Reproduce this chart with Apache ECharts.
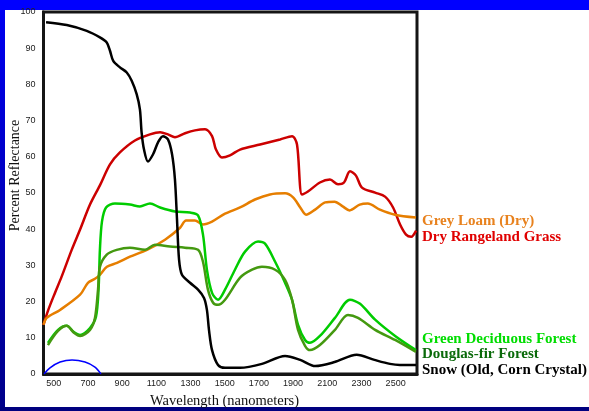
<!DOCTYPE html>
<html>
<head>
<meta charset="utf-8">
<script src="https://cdn.jsdelivr.net/npm/echarts@6/dist/echarts.min.js"></script>
<style>
  html, body { margin: 0; padding: 0; background: #ffffff; }
  #wrap { position: relative; width: 589px; height: 411px; overflow: hidden; background: #ffffff; }
  #topBar { position: absolute; left: 0; top: 0; width: 589px; height: 10px; background: #0000ff; }
  #leftBar { position: absolute; left: 0; top: 10px; width: 5px; height: 401px;
             background: linear-gradient(to bottom, #0000f0, #000088); }
  #bottomBar { position: absolute; left: 0; top: 407px; width: 589px; height: 4px; background: #00007f; }
  #chart { position: absolute; left: 0; top: 0; width: 589px; height: 411px; }
</style>
</head>
<body>
<div id="wrap">
  <div id="topBar"></div>
  <div id="leftBar"></div>
  <div id="bottomBar"></div>
  <div id="chart"></div>
</div>
<script>
// Spectral reflectance curves: [wavelength (nm), percent reflectance]
const wavelengthTicks = [500, 700, 900, 1100, 1300, 1500, 1700, 1900, 2100, 2300, 2500];

const snow = [
  [455, 97.2], [576, 96.4], [693, 94.8], [770, 93.0], [810, 91.6], [829, 89.3], [848, 86.5],
  [887, 84.7], [927, 83.3], [956, 81.0], [985, 77.3], [1004, 73.1], [1014, 66.7], [1028, 62.0],
  [1051, 58.7], [1081, 60.7], [1110, 64.0], [1139, 65.7], [1168, 64.8], [1192, 60.7], [1209, 53.7],
  [1221, 42.7], [1233, 31.6], [1250, 27.4], [1297, 25.2], [1344, 23.3], [1379, 21.0], [1396, 17.7],
  [1408, 12.2], [1426, 6.6], [1461, 2.5], [1502, 1.7], [1590, 1.7], [1718, 2.8], [1853, 5.0],
  [1942, 3.9], [2030, 2.2], [2143, 3.3], [2272, 5.3], [2376, 3.9], [2467, 2.8], [2525, 2.5], [2619, 2.5]
];

const dryRangelandGrass = [
  [440, 13.6], [468, 17.7], [507, 22.4], [546, 26.9], [605, 34.3], [654, 39.9], [712, 46.8],
  [770, 52.1], [829, 57.9], [887, 61.2], [975, 64.5], [1063, 66.2], [1122, 66.8], [1168, 66.2],
  [1209, 65.4], [1268, 66.5], [1326, 67.3], [1385, 67.6], [1426, 65.7], [1449, 62.0], [1484, 59.8],
  [1531, 60.4], [1590, 62.0], [1707, 63.4], [1824, 64.8], [1894, 65.7], [1923, 63.4], [1952, 49.6],
  [1987, 50.4], [2057, 52.9], [2116, 53.7], [2163, 52.4], [2198, 52.9], [2233, 56.0], [2268, 54.8],
  [2303, 51.5], [2380, 50.1], [2438, 49.0], [2485, 46.0], [2526, 41.3], [2561, 38.5], [2591, 37.9],
  [2620, 39.6]
];

const greyLoam = [
  [440, 13.6], [459, 15.5], [537, 17.7], [654, 21.9], [700, 25.2], [741, 26.3], [770, 27.4],
  [811, 29.6], [870, 30.7], [946, 32.4], [1045, 34.3], [1151, 37.1], [1239, 40.4], [1274, 42.4],
  [1326, 42.4], [1373, 41.3], [1426, 42.1], [1502, 44.3], [1590, 46.0], [1677, 48.2], [1765, 49.6],
  [1853, 49.9], [1900, 48.8], [1942, 46.0], [1976, 44.0], [2029, 45.4], [2088, 47.4], [2143, 47.6],
  [2190, 46.3], [2231, 45.2], [2290, 46.8], [2337, 47.1], [2408, 45.4], [2496, 44.0], [2619, 43.2]
];

const greenDeciduous = [
  [466, 8.6], [525, 12.2], [576, 13.3], [618, 11.6], [654, 10.8], [712, 12.7], [747, 15.8],
  [762, 23.3], [770, 34.3], [782, 42.1], [806, 46.0], [858, 47.1], [946, 46.8], [1004, 46.3],
  [1063, 47.1], [1122, 46.0], [1209, 44.9], [1297, 44.6], [1344, 43.8], [1373, 38.5], [1396, 28.8],
  [1426, 22.4], [1461, 20.5], [1502, 23.3], [1560, 28.8], [1619, 33.8], [1695, 36.6], [1736, 36.0],
  [1795, 31.0], [1853, 25.2], [1894, 20.5], [1929, 13.6], [1970, 9.4], [1999, 8.6], [2057, 10.5],
  [2145, 15.5], [2233, 20.5], [2292, 19.4], [2380, 15.0], [2497, 10.5], [2619, 6.6]
];

const douglasFir = [
  [466, 8.0], [525, 11.9], [576, 13.3], [618, 11.4], [654, 10.5], [712, 12.2], [741, 15.5],
  [759, 23.3], [770, 29.6], [810, 33.0], [868, 34.3], [946, 34.9], [1034, 34.3], [1092, 35.7],
  [1180, 35.2], [1268, 34.9], [1344, 34.3], [1373, 31.0], [1402, 23.3], [1432, 19.7], [1461, 19.1],
  [1502, 20.5], [1590, 26.6], [1660, 28.8], [1718, 29.6], [1795, 28.8], [1853, 26.0], [1894, 20.5],
  [1929, 12.2], [1970, 7.8], [1999, 6.6], [2057, 8.0], [2145, 12.2], [2221, 16.3], [2280, 15.5],
  [2380, 12.2], [2497, 9.4], [2619, 6.1]
];

// visible band marker along the baseline
const visibleBand = [[443, 0], [478, 1.7], [537, 3.3], [607, 3.9], [683, 3.3], [741, 1.9], [776, 0]];

const curveLabels = [
  { text: 'Grey Loam (Dry)', color: '#e8821e', y: 221 },
  { text: 'Dry Rangeland Grass', color: '#e00000', y: 237 },
  { text: 'Green Deciduous Forest', color: '#00dd00', y: 339 },
  { text: 'Douglas-fir Forest', color: '#0a6a0a', y: 354.5 },
  { text: 'Snow (Old, Corn Crystal)', color: '#000000', y: 370 }
];

function line(name, data, color, width) {
  return {
    name: name, type: 'line', data: data, showSymbol: false, smooth: 0.3,
    lineStyle: { color: color, width: width }, itemStyle: { color: color },
    animation: false, silent: true
  };
}

const chart = echarts.init(document.getElementById('chart'), null, { renderer: 'canvas' });
chart.setOption({
  backgroundColor: 'transparent',
  animation: false,
  grid: {
    left: 43.5, right: 172, top: 12, bottom: 37,
    show: true, borderColor: '#151515', borderWidth: 3, backgroundColor: 'transparent'
  },
  xAxis: {
    type: 'value', min: 440, max: 2625,
    axisLine: { show: true, lineStyle: { color: '#151515', width: 3 } },
    axisTick: { show: false },
    splitLine: { show: false },
    axisLabel: {
      customValues: wavelengthTicks, margin: 5,
      formatter: function (v) { return String(v); },
      color: '#222', fontSize: 9, fontFamily: 'Liberation Sans, Arial, sans-serif'
    }
  },
  yAxis: {
    type: 'value', min: 0, max: 100, interval: 10,
    axisLine: { show: true, lineStyle: { color: '#151515', width: 3 } },
    axisTick: { show: false },
    splitLine: { show: false },
    axisLabel: {
      margin: 8, color: '#222', fontSize: 9, fontFamily: 'Liberation Sans, Arial, sans-serif'
    }
  },
  graphic: [
    {
      type: 'text', x: 15.5, y: 175.5, rotation: Math.PI / 2,
      style: {
        text: 'Percent Reflectance', fill: '#111',
        font: '14px "Liberation Serif", "Times New Roman", serif',
        align: 'center', verticalAlign: 'middle'
      }, silent: true
    },
    {
      type: 'text', x: 224.5, y: 401,
      style: {
        text: 'Wavelength (nanometers)', fill: '#111',
        font: '14.5px "Liberation Serif", "Times New Roman", serif',
        align: 'center', verticalAlign: 'middle'
      }, silent: true
    }
  ].concat(curveLabels.map(function (c) {
    return {
      type: 'text', x: 422, y: c.y,
      style: {
        text: c.text, fill: c.color,
        font: 'bold 15px "Liberation Serif", "Times New Roman", serif',
        align: 'left', verticalAlign: 'middle'
      }, silent: true
    };
  })),
  series: [
    line('Dry Rangeland Grass', dryRangelandGrass, '#cc0000', 2.5),
    line('Grey Loam (Dry)', greyLoam, '#e67e00', 2.5),
    line('Green Deciduous Forest', greenDeciduous, '#00cc00', 2.5),
    line('Douglas-fir Forest', douglasFir, '#449910', 2.5),
    line('Snow (Old, Corn Crystal)', snow, '#000000', 2.5),
    line('Visible', visibleBand, '#0000ff', 1.5)
  ]
});
</script>
</body>
</html>
